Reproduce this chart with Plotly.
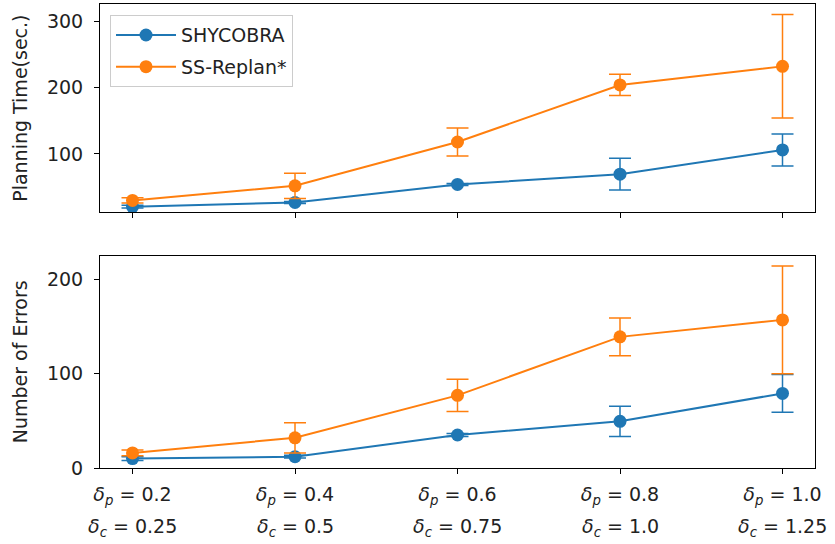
import plotly.graph_objects as go
from plotly.subplots import make_subplots

# ---- data ----
x_pos = [0, 1, 2, 3, 4]
dp_labels = ["0.2", "0.4", "0.6", "0.8", "1.0"]
dc_labels = ["0.25", "0.5", "0.75", "1.0", "1.25"]
series_names = ["SHYCOBRA", "SS-Replan*"]
colors = ["#1f77b4", "#ff7f0e"]

time_shycobra = [20.5, 27, 54, 69.5, 106]
time_shycobra_err = [2, 1.5, 1.5, 24, 24]
time_ssreplan = [30, 52, 118, 204, 232]
time_ssreplan_err = [4, 19, 21, 16, 78]

err_shycobra = [10, 12, 35, 49.5, 79]
err_shycobra_err = [2, 1.5, 1.5, 16, 20]
err_ssreplan = [16, 32, 77, 139, 157]
err_ssreplan_err = [3, 16, 17, 20, 57]

FS = 19
TXT = "#222222"

fig = make_subplots(rows=2, cols=1, shared_xaxes=True, vertical_spacing=0.09)


def add(row, y, e, name, color, show):
    fig.add_trace(go.Scatter(
        x=x_pos, y=y, name=name, mode="lines+markers",
        line=dict(color=color, width=2),
        marker=dict(color=color, size=13),
        error_y=dict(type="data", array=e, visible=True, color=color,
                     thickness=1.5, width=11),
        showlegend=show, legendgroup=name,
    ), row=row, col=1)


add(1, time_shycobra, time_shycobra_err, series_names[0], colors[0], True)
add(1, time_ssreplan, time_ssreplan_err, series_names[1], colors[1], True)
add(2, err_shycobra, err_shycobra_err, series_names[0], colors[0], False)
add(2, err_ssreplan, err_ssreplan_err, series_names[1], colors[1], False)

axis_common = dict(showline=True, linecolor="black", linewidth=1, mirror=True,
                   ticks="outside", ticklen=5, tickcolor="black", showgrid=False,
                   zeroline=False, automargin=False, tickfont=dict(size=FS, color=TXT))

dp_text = ["<i>δ</i><sub><i>p</i></sub> = " + v for v in dp_labels]
fig.update_xaxes(range=[-0.2, 4.2], tickvals=x_pos, ticktext=dp_text,
                 ticklabelstandoff=4, **axis_common)
fig.update_xaxes(showticklabels=False, row=1, col=1)

fig.update_yaxes(range=[12, 326], tickvals=[100, 200, 300], row=1, col=1, **axis_common,
                 domain=[0.551, 1.0], ticklabelstandoff=7,
                 title=dict(text="Planning Time(sec.)", font=dict(size=FS, color=TXT), standoff=14))
fig.update_yaxes(range=[0, 225], tickvals=[0, 100, 200], row=2, col=1, **axis_common,
                 domain=[0.0, 0.4575], ticklabelstandoff=7,
                 title=dict(text="Number of Errors", font=dict(size=FS, color=TXT), standoff=14))

# second line of the x tick labels
for xv, v in zip(x_pos, dc_labels):
    fig.add_annotation(x=xv, xref="x2", y=0, yref="paper", yanchor="middle",
                       yshift=-59, showarrow=False,
                       text="<i>δ</i><sub><i>c</i></sub> = " + v,
                       font=dict(size=FS, color=TXT))

fig.update_layout(
    width=835, height=544,
    margin=dict(l=100, r=20, t=4, b=76),
    paper_bgcolor="white", plot_bgcolor="white",
    font=dict(family="DejaVu Sans", color=TXT),
    legend=dict(x=0.014, y=0.976, xanchor="left", yanchor="top",
                bordercolor="#cccccc", borderwidth=1, bgcolor="rgba(255,255,255,0.8)",
                font=dict(size=FS, color=TXT), tracegroupgap=4, itemwidth=60),
)

fig.write_html("out.html", config={"displayModeBar": False},
               post_script="document.body.style.margin='0';document.body.style.padding='0';")
